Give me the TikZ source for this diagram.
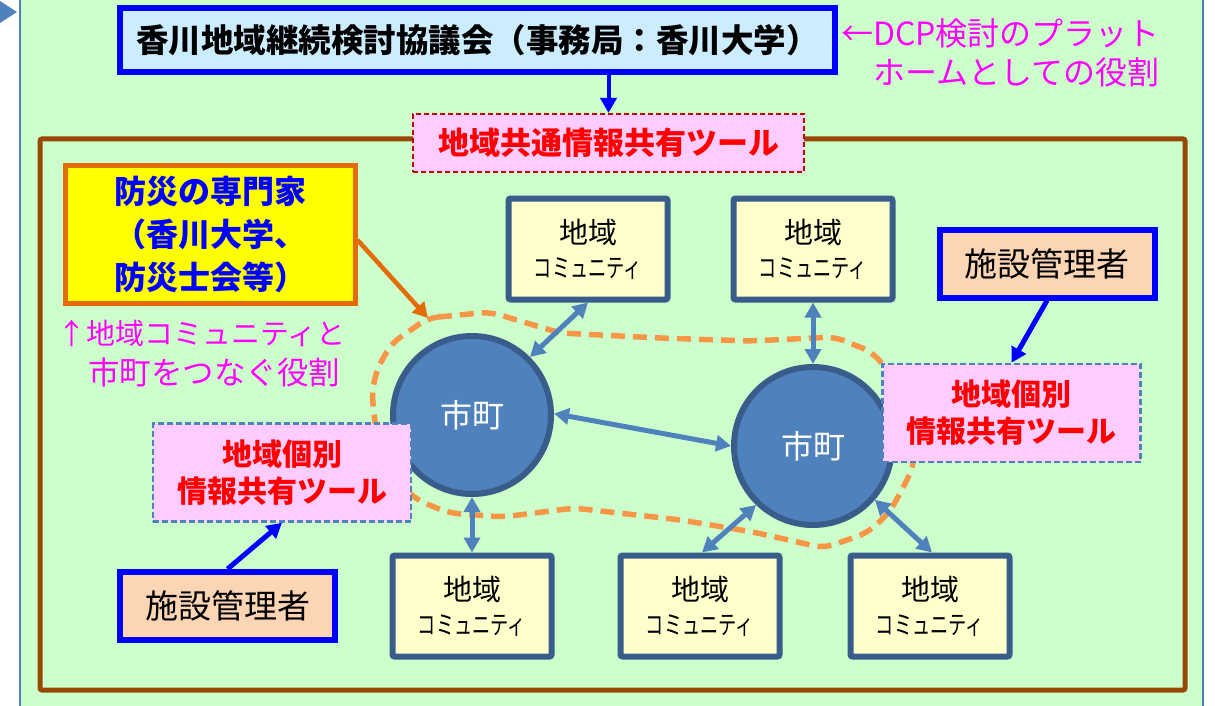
\documentclass[tikz,border=0pt]{standalone}
\usepackage{fontspec}
\usepackage{graphicx}
\setmainfont{Noto Sans CJK JP}
\usetikzlibrary{arrows.meta}
\definecolor{bg}{HTML}{CCFFCC}
\definecolor{pureblue}{HTML}{0000FF}
\definecolor{lightblue}{HTML}{CCECFF}
\definecolor{mag}{HTML}{FF00FF}
\definecolor{darkred}{HTML}{C00000}
\definecolor{pinkfill}{HTML}{FFCCFF}
\definecolor{redtext}{HTML}{FF0000}
\definecolor{framebrown}{HTML}{984806}
\definecolor{exporange}{HTML}{E36C09}
\definecolor{yel}{HTML}{FFFF00}
\definecolor{commfill}{HTML}{FFFFCC}
\definecolor{navy}{HTML}{385D8A}
\definecolor{steel}{HTML}{4F81BD}
\definecolor{peach}{HTML}{FCD5B5}
\definecolor{dashor}{HTML}{F79646}
\tikzset{
  topbox/.style={draw=pureblue, line width=6, fill=lightblue, minimum width=715, minimum height=64, inner sep=0,
    font=\fontsize{32.5}{38}\selectfont\bfseries},
  magtext/.style={text=mag, inner sep=0, font=\fontsize{30}{36}\selectfont},
  commontool/.style={draw=darkred, line width=2, dash pattern=on 5 off 3, fill=pinkfill, minimum width=391, minimum height=58,
    inner sep=0, text=redtext, font=\fontsize{31}{36}\selectfont\bfseries},
  indtool/.style={draw=steel, line width=2.5, dash pattern=on 6 off 3, fill=pinkfill, minimum width=258, minimum height=98,
    inner sep=0, align=center, text=redtext, font=\fontsize{30}{37}\selectfont\bfseries},
  expertbox/.style={draw=exporange, line width=5, fill=yel, minimum width=290, minimum height=138, inner sep=0,
    align=center, text=pureblue, font=\fontsize{32}{43}\selectfont\bfseries},
  mgrbox/.style={draw=pureblue, line width=6, fill=peach, minimum width=215, minimum height=68, inner sep=0,
    font=\fontsize{33}{38}\selectfont},
  commbox/.style={draw=navy, line width=6, fill=commfill, rounded corners=2, minimum width=159, minimum height=101, inner sep=0,
    align=center},
  city/.style={circle, draw=navy, line width=6, fill=steel, minimum size=158, inner sep=0, text=white,
    font=\fontsize{32}{38}\selectfont},
  dbl/.style={draw=steel, line width=5, {Triangle[length=15,width=16]}-{Triangle[length=15,width=16]}},
  blueptr/.style={draw=pureblue, line width=5, -{Triangle[length=15,width=16]}},
  orangeptr/.style={draw=exporange, line width=4.5, -{Triangle[length=15,width=16]}},
}
\newcommand{\commtext}{{\fontsize{29}{34}\selectfont 地域}\\[11pt]{\fontsize{26}{26}\selectfont\scalebox{0.7}[1]{コミュニティ}}}
\begin{document}
\begin{tikzpicture}[x=1pt,y=-1pt]
\useasboundingbox (0,0) rectangle (1215,706);
% background panel
\fill[bg] (20,0) rectangle (1203,706);
\draw[steel, line width=2] (20,0) -- (20,706);
\draw[steel, line width=2] (1203,0) -- (1203,706);
\fill[steel] (0,1) -- (17,12) -- (0,23) -- cycle;
% brown frame
\draw[framebrown, line width=5, rounded corners=2] (40,139) rectangle (1185,690);
% dashed orange area
\coordinate (apex) at (428,318);
\draw[dashor, line width=5.5, dash pattern=on 14 off 8, rounded corners=10]
  (apex) -- (490,312) -- (520,321) -- (560,333) -- (660,338) -- (750,341) -- (835,337) -- (872,352)
  -- (886,368) -- (903,420) -- (915,463) -- (903,488) -- (889,513) -- (867,533) -- (824,548)
  -- (753,532) -- (681,520) -- (574,508) -- (503,517) -- (449,513) -- (417,500) -- (385,470)
  -- (374,417) -- (372,390) -- (378,367) -- (392,343) -- cycle;
% top box and note
\node[topbox] (council) at (477.5,40) {香川地域継続検討協議会（事務局：香川大学）};
\node[magtext, anchor=east, font=\fontsize{32}{38}\selectfont] (note1) at (1160,33) {←DCP検討のプラット};
\node[magtext, anchor=east, font=\fontsize{32}{38}\selectfont] (note2) at (1160,72) {ホームとしての役割};
\node[commontool] (common) at (608.5,143) {地域共通情報共有ツール};
\draw[blueptr, line width=4] (common.north |- council.south) -- (common.north);
% expert
\node[expertbox] (expert) at (210,234) {防災の専門家\\（香川大学、\\防災士会等）};
\node[magtext, anchor=west, font=\fontsize{29}{36}\selectfont] (note3) at (57,333) {↑地域コミュニティと};
\node[magtext, anchor=west, font=\fontsize{31.5}{36}\selectfont] (note4) at (88,372) {市町をつなぐ役割};
% cities
\node[city] (L) at (472,415) {市町};
\node[city] (R) at (813,446) {市町};
% communities
\node[commbox] (c1) at (588,249) {\commtext};
\node[commbox] (c2) at (813,249) {\commtext};
\node[commbox] (c3) at (472,606) {\commtext};
\node[commbox] (c4) at (700,606) {\commtext};
\node[commbox] (c5) at (930,606) {\commtext};
% individual tools
\node[indtool] (pl) at (282,472.5) {地域個別\\情報共有ツール};
\node[indtool] (pr) at (1011.5,413) {地域個別\\情報共有ツール};
% managers
\node[mgrbox] (ml) at (227.5,606) {施設管理者};
\node[mgrbox] (mr) at (1047,263.5) {施設管理者};
% connectors
\draw[orangeptr] ([yshift=-6pt]expert.east) -- (apex);
\draw[blueptr] (mr.south) -- (pr.north);
\draw[blueptr] (ml.north) -- (pl.south);
\draw[dbl] (c1.south) -- (L.45);
\draw[dbl] (c2.south) -- (R.north);
\draw[dbl] (L.1) -- (R.180);
\draw[dbl] (L.south) -- (c3.north);
\draw[dbl] (R.226) -- ([xshift=2pt]c4.north);
\draw[dbl] (R.319) -- ([xshift=2pt]c5.north);
\end{tikzpicture}
\end{document}
